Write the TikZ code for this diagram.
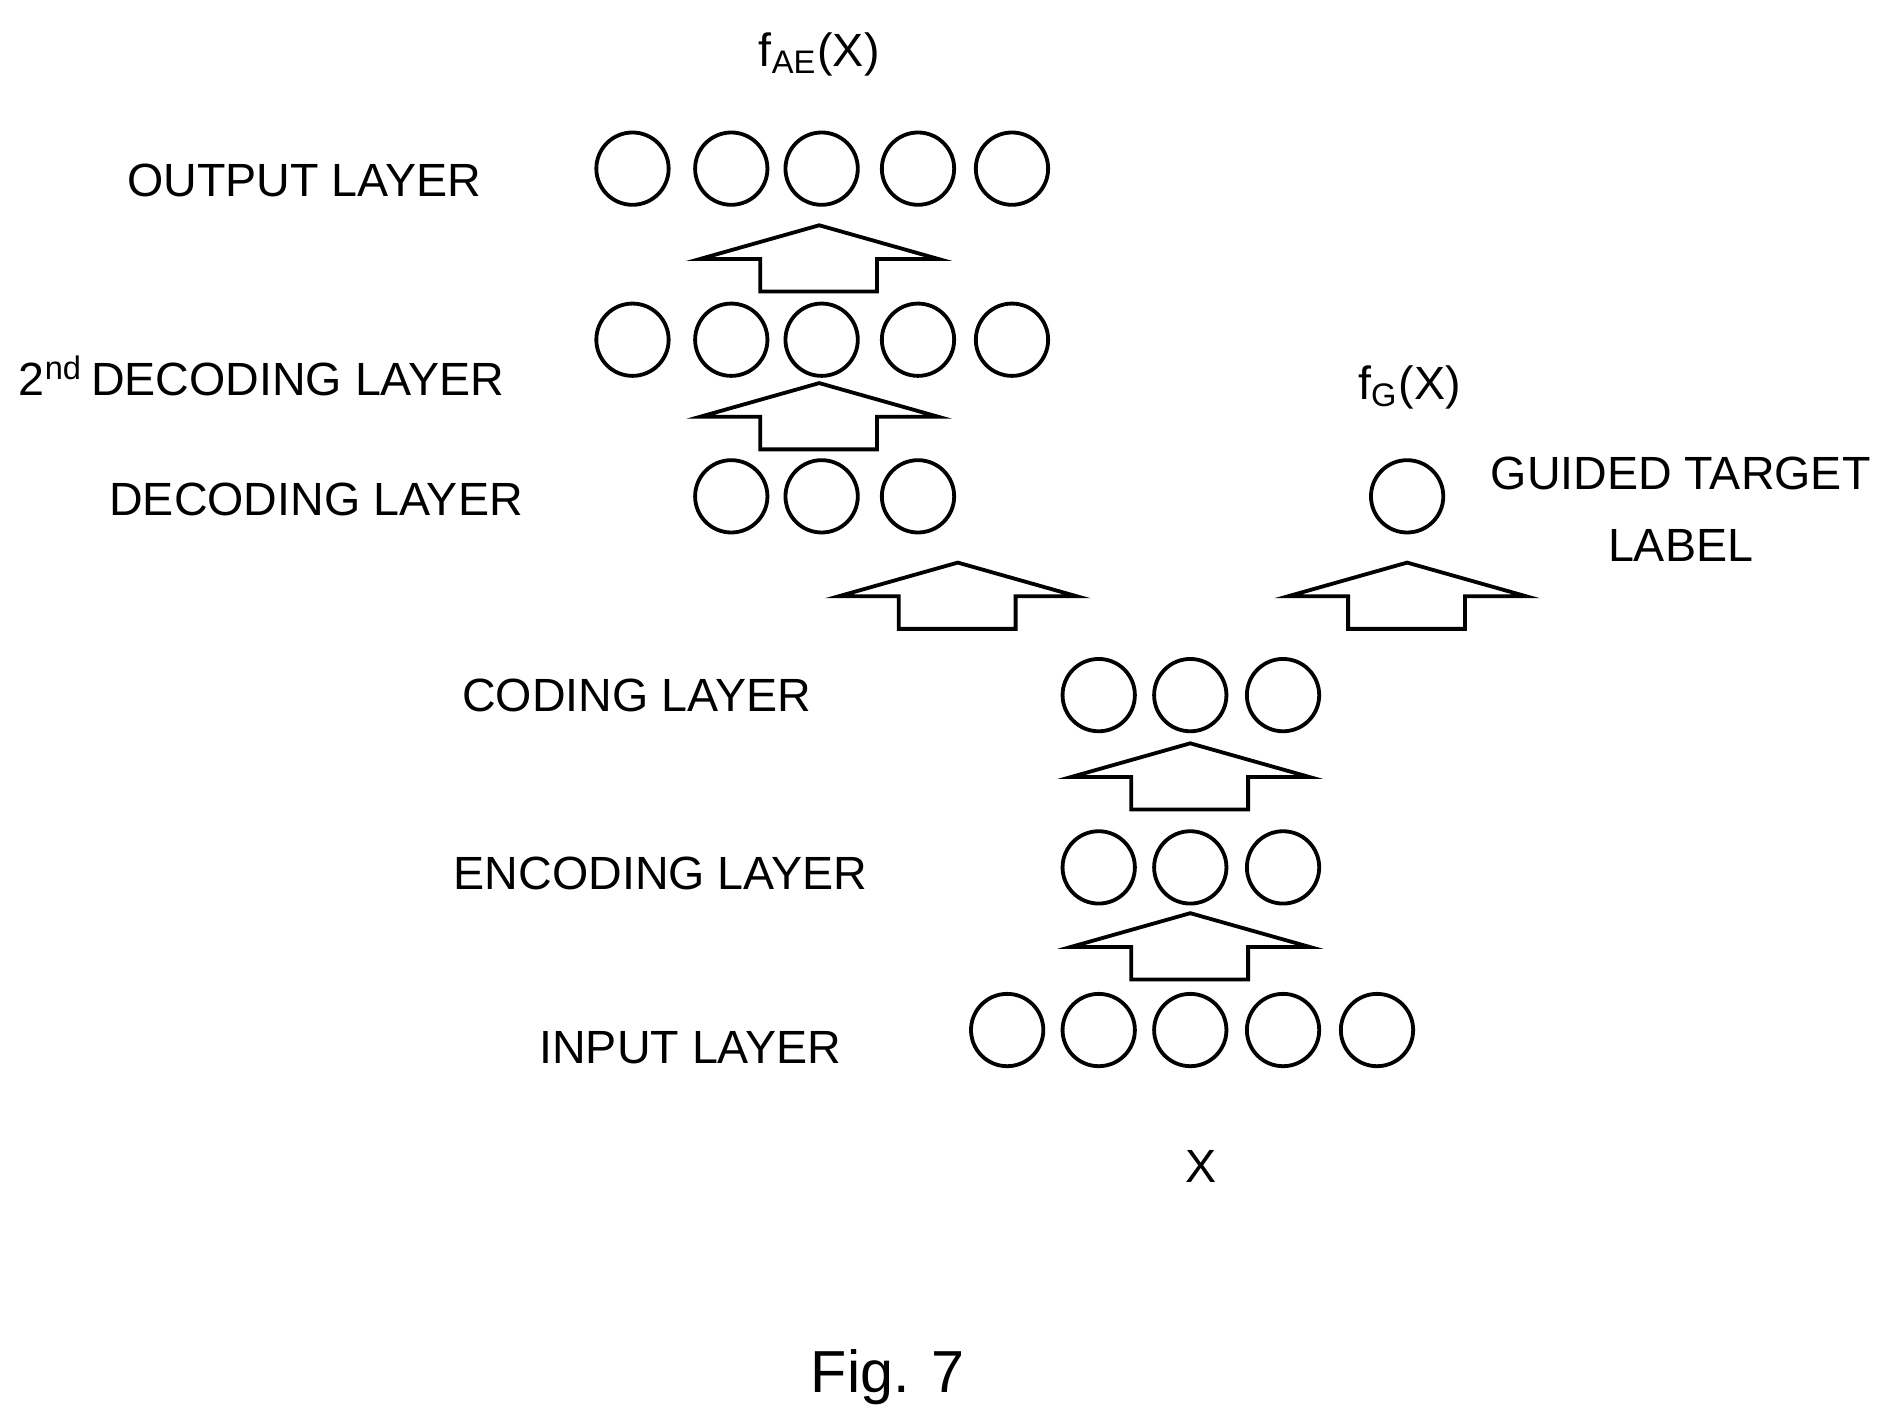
\documentclass[tikz,border=0pt]{standalone}
\usepackage{fontspec}
\setmainfont{Liberation Sans}
\begin{document}
\begin{tikzpicture}[x=0.01cm,y=-0.01cm,
  neuron/.style={circle,draw,line width=0.9pt,minimum size=0.6cm,inner sep=0pt},
  lbl/.style={font=\fontsize{11}{13}\selectfont,inner sep=0pt},
  blk/.style={draw,line width=0.9pt,fill=white}]
\useasboundingbox (0,0) rectangle (1563,1180);
% block arrow: tip x, tip y
\newcommand{\blockarrow}[2]{%
  \draw[blk] (#1,#2) -- (#1+99,#2+28) -- (#1+48,#2+28) -- (#1+48,#2+55) -- (#1-49,#2+55) -- (#1-49,#2+28) -- (#1-99,#2+28) -- cycle;}
% output layer
\foreach \x [count=\i] in {525,607,682,762,840} \node[neuron] (o\i) at (\x,140) {};
\foreach \x [count=\i] in {525,607,682,762,840} \node[neuron] (d2\i) at (\x,282) {};
\foreach \x [count=\i] in {607,682,762} \node[neuron] (d\i) at (\x,412) {};
\foreach \x [count=\i] in {912,988,1065} \node[neuron] (c\i) at (\x,577) {};
\foreach \x [count=\i] in {912,988,1065} \node[neuron] (e\i) at (\x,720) {};
\foreach \x [count=\i] in {836,912,988,1065,1143} \node[neuron] (in\i) at (\x,855) {};
\node[neuron] (g) at (1168,412) {};
\blockarrow{680}{187}
\blockarrow{680}{318}
\blockarrow{795}{467}
\blockarrow{1168}{467}
\blockarrow{988}{617}
\blockarrow{988}{758}
\node[lbl,anchor=west] (lo) at (105,150) {OUTPUT LAYER};
\node[lbl,anchor=west] (l2) at (15,312) {2\textsuperscript{nd}\,DECODING LAYER};
\node[lbl,anchor=west] (ld) at (90,415) {DECODING LAYER};
\node[lbl,anchor=west] (lc) at (383,577) {CODING LAYER};
\node[lbl,anchor=west] (le) at (376,725) {ENCODING LAYER};
\node[lbl,anchor=west] (li) at (447,870) {INPUT LAYER};
\node[lbl,align=center] (lg) at (1395,423) {GUIDED TARGET\\[4pt]LABEL};
\node[lbl] (fae) at (680,45) {f\textsubscript{AE}(X)};
\node[lbl] (fg) at (1170,322) {f\textsubscript{G}(X)};
\node[lbl] (x) at (997,968) {X};
\node[font=\fontsize{14}{16}\selectfont] (fig) at (737,1143) {Fig. 7};
\end{tikzpicture}
\end{document}
